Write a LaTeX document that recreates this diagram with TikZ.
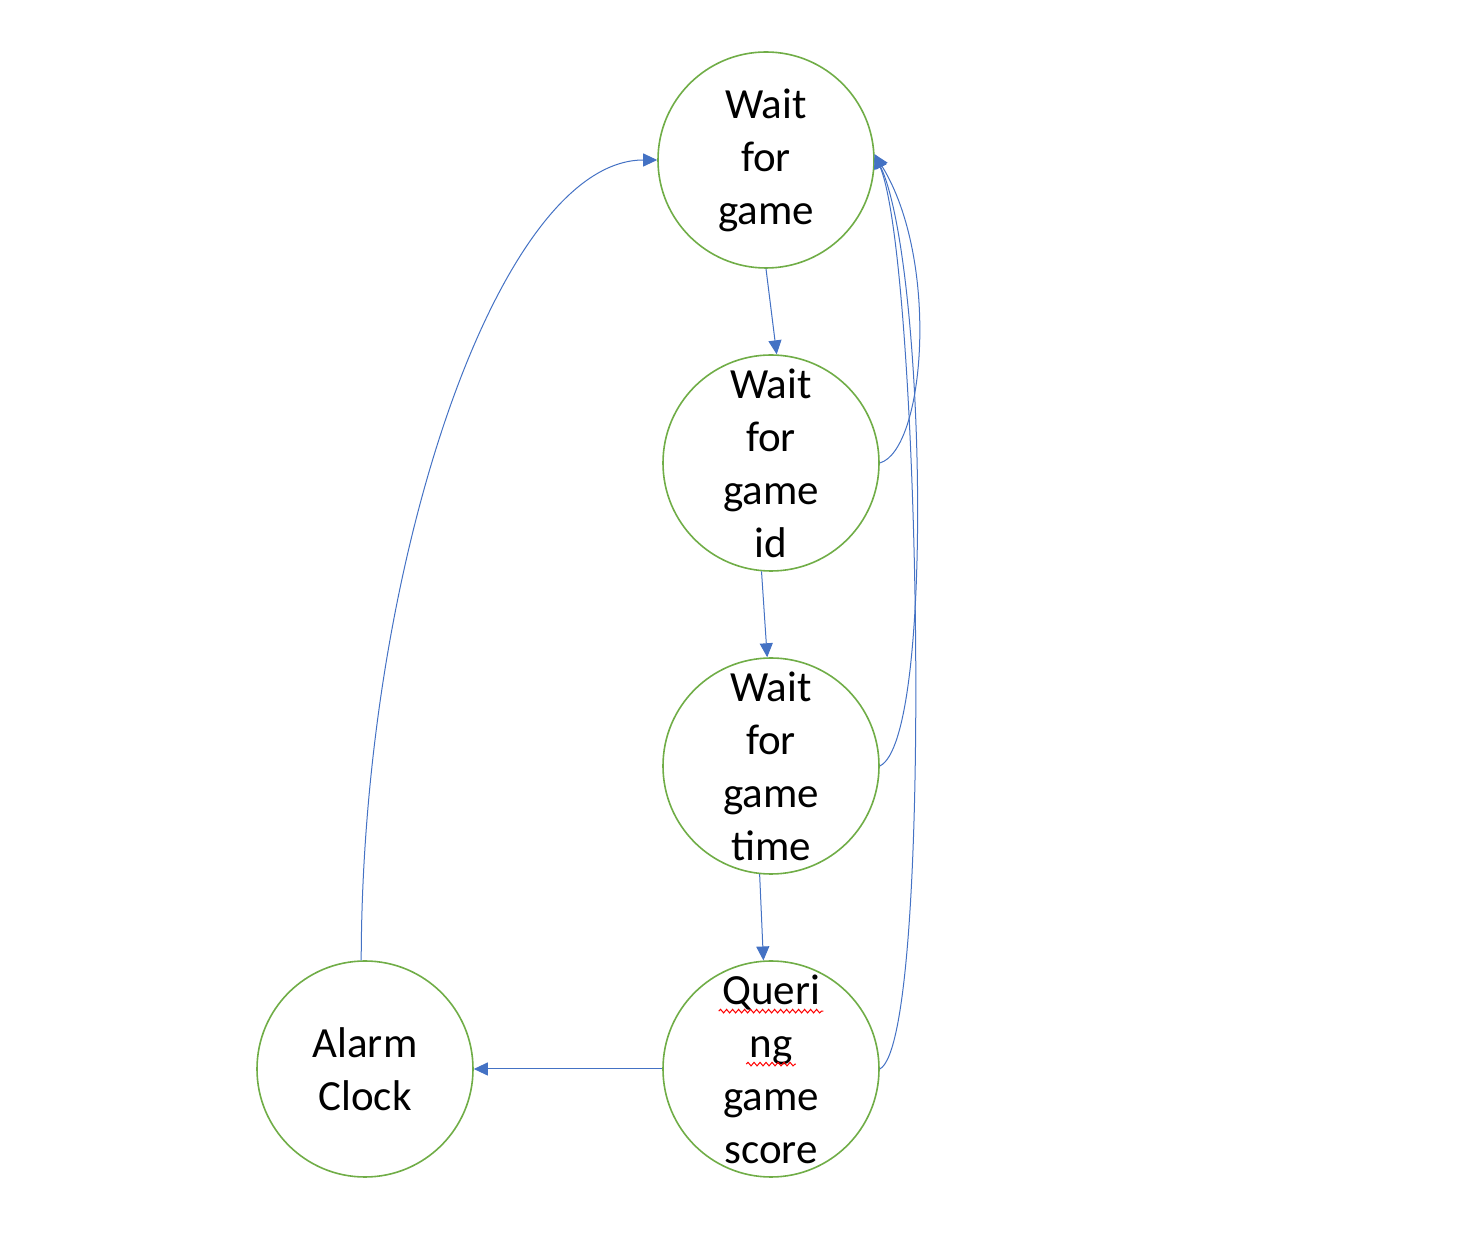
\documentclass[tikz,border=0pt]{standalone}
\usepackage{fontspec}
\setmainfont{Carlito}
\usetikzlibrary{arrows.meta,decorations.pathmorphing}
\definecolor{ringgreen}{HTML}{70AD47}
\definecolor{linkblue}{HTML}{4472C4}
\tikzset{
    stage/.style={circle, draw=ringgreen, line width=0.8pt, minimum size=108pt,
        inner sep=0pt, align=center, font=\fontsize{21.5}{26.5}\selectfont},
    link/.style={draw=linkblue, line width=0.5pt, -{Triangle[length=7pt,width=6.5pt]}},
    wordbox/.style={rectangle, draw=none, minimum size=0pt, inner sep=0pt, align=left},
}
% red spell-check wave under a word
\newcommand{\spellwave}[1]{\tikz[baseline=(w.base)]{\node[wordbox] (w) {#1};
    \draw[red, line width=0.5pt, decorate, decoration={snake, amplitude=0.9pt, segment length=3pt}]
        ([xshift=-1.5pt,yshift=-3.5pt]w.base west) -- ([xshift=1.5pt,yshift=-3.5pt]w.base east);}}

\begin{document}
\begin{tikzpicture}[x=0.5pt,y=0.5pt,yscale=-1,xscale=1]
\useasboundingbox (0,0) rectangle (1474,1234);
%States
\node[stage] (game)  at (766,160)  {Wait\\for\\game};
\node[stage] (id)    at (771,463)  {Wait\\for\\game\\id};
\node[stage] (time)  at (771,766)  {Wait\\for\\game\\time};
\node[stage] (score) at (771,1069) {\spellwave{Queri}\\\spellwave{ng}\\game\\score};
\node[stage] (alarm) at (365,1069) {Alarm\\Clock};
%Straight links
\draw[link] (game.270) -- (id.87);
\draw[link] (id.265) -- (time.92);
\draw[link] (time.264) -- (score.94);
\draw[link] (score.180) -- (alarm.0);
%Back links
\draw[link] (alarm.92) .. controls (362,560) and (500,160) .. (game.180);
\draw[link] (id.0) .. controls (925,450) and (940,260) .. (game.3);
\draw[link] (time.0) .. controls (935,740) and (925,260) .. (game.3);
\draw[link] (score.0) .. controls (935,1040) and (920,260) .. (game.3);
\end{tikzpicture}
\end{document}
